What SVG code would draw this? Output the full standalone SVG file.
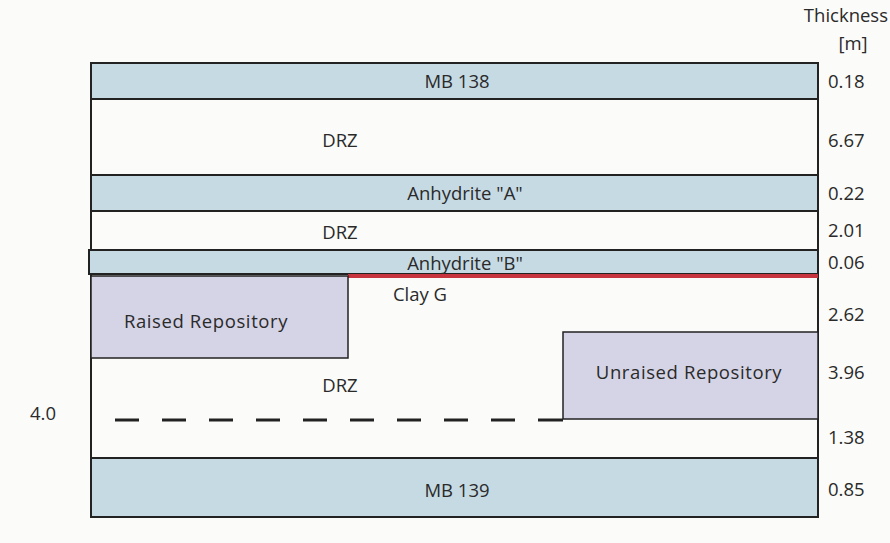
<svg xmlns="http://www.w3.org/2000/svg" width="890" height="543" viewBox="0 0 890 543">
<style>
.t{font-family:"Open Sans","Liberation Sans",sans-serif;font-size:18.5px;fill:#2a2a2a}
.m{text-anchor:middle}
.s{letter-spacing:0.6px}
.blue{fill:#c6dae4;stroke:#222;stroke-width:2}
.repo{fill:#d5d4e6;stroke:#222;stroke-width:1.5}
.ln{stroke:#222;stroke-width:2;fill:none}
</style>
<rect width="890" height="543" fill="#fbfbf9"/>
<g id="frame">
<line class="ln" x1="91" y1="99" x2="91" y2="458"/>
<line class="ln" x1="818" y1="63" x2="818" y2="517"/>
</g>
<g id="mb138">
<rect class="blue" x="91" y="63" width="727" height="36"/>
<text class="t m" x="457" y="88">MB 138</text>
</g>
<g id="drz1"><text class="t m" x="340" y="147">DRZ</text></g>
<g id="anhA">
<rect class="blue" x="91" y="175" width="727" height="36"/>
<text class="t m" x="465" y="200">Anhydrite "A"</text>
</g>
<g id="drz2"><text class="t m" x="340" y="239">DRZ</text></g>
<g id="anhB">
<rect class="blue" x="89" y="250" width="729" height="24"/>
<text class="t m" x="465" y="270">Anhydrite "B"</text>
</g>
<g id="clayG">
<line x1="348" y1="276" x2="818" y2="276" stroke="#c8343e" stroke-width="4"/>
<text class="t m" x="420" y="301">Clay G</text>
</g>
<g id="raised">
<rect class="repo" x="91" y="276" width="257" height="82"/>
<text class="t m s" x="206" y="328">Raised Repository</text>
</g>
<g id="unraised">
<rect class="repo" x="563" y="332" width="255" height="87"/>
<text class="t m s" x="689" y="379">Unraised Repository</text>
</g>
<g id="drz3"><text class="t m" x="340" y="392">DRZ</text></g>
<g id="connectors">
<line x1="115" y1="420" x2="540" y2="420" stroke="#222" stroke-width="3" stroke-dasharray="24,23"/>
<line x1="540" y1="420" x2="563" y2="420" stroke="#222" stroke-width="3"/>
</g>
<g id="mb139">
<rect class="blue" x="91" y="458" width="727" height="59"/>
<text class="t m" x="457" y="497">MB 139</text>
</g>
<g id="labels">
<text class="t" x="888" y="22" text-anchor="end">Thickness</text>
<text class="t m" x="853" y="50">[m]</text>
<text class="t" x="828" y="88">0.18</text>
<text class="t" x="828" y="147">6.67</text>
<text class="t" x="828" y="200">0.22</text>
<text class="t" x="828" y="237">2.01</text>
<text class="t" x="828" y="269">0.06</text>
<text class="t" x="828" y="321">2.62</text>
<text class="t" x="828" y="379">3.96</text>
<text class="t" x="828" y="444">1.38</text>
<text class="t" x="828" y="496">0.85</text>
<text class="t" x="30" y="420">4.0</text>
</g>
</svg>
